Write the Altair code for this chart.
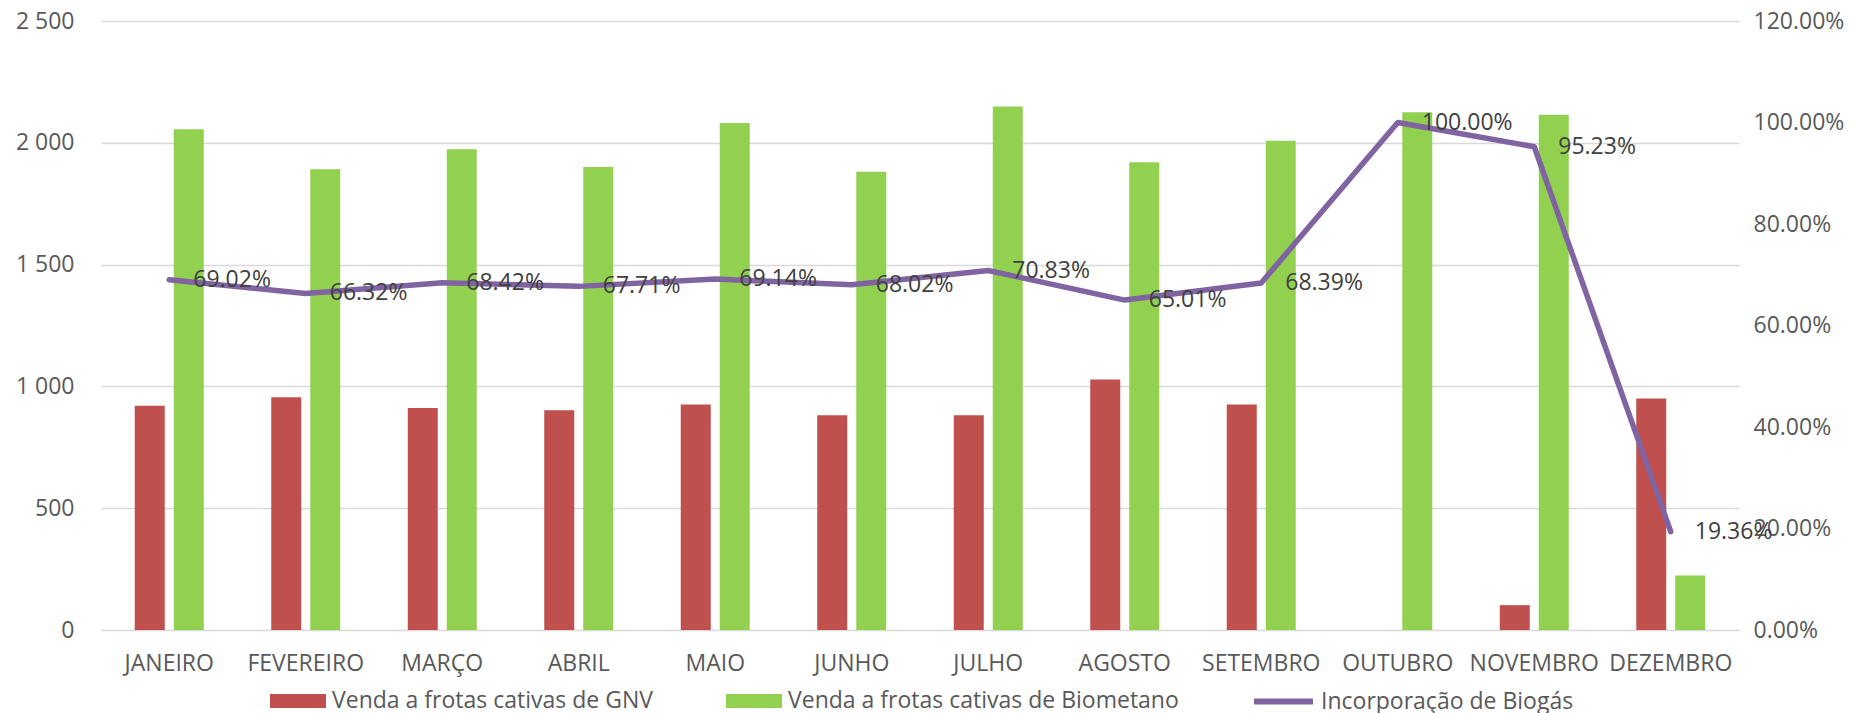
import altair as alt
import pandas as pd

meses = ["JANEIRO", "FEVEREIRO", "MARÇO", "ABRIL", "MAIO", "JUNHO", "JULHO",
         "AGOSTO", "SETEMBRO", "OUTUBRO", "NOVEMBRO", "DEZEMBRO"]
gnv = [921, 955, 911, 902, 926, 882, 882, 1028, 926, 0, 102, 950]
biometano = [2056, 1891, 1974, 1901, 2081, 1881, 2149, 1920, 2008, 2125, 2115, 224]
incorporacao = [0.6902, 0.6632, 0.6842, 0.6771, 0.6914, 0.6802, 0.7083, 0.6501,
                0.6839, 1.0000, 0.9523, 0.1936]

s_gnv = "Venda a frotas cativas de GNV"
s_bio = "Venda a frotas cativas de Biometano"
s_inc = "Incorporação de Biogás"

bars_df = pd.DataFrame({
    "mes": meses * 2,
    "serie": [s_gnv] * 12 + [s_bio] * 12,
    "valor": gnv + biometano,
})
line_df = pd.DataFrame({"mes": meses, "serie": [s_inc] * 12, "pct": incorporacao})

FONT = "Open Sans"
LABEL = "#595959"

x_enc = alt.X(
    "mes:N", sort=meses,
    scale=alt.Scale(paddingInner=0.4945, paddingOuter=0.24725),
    axis=alt.Axis(title=None, labelAngle=0, ticks=False, domain=False,
                  labelFontSize=23, labelColor=LABEL, labelPadding=22, labelFont=FONT),
)

bars = alt.Chart(bars_df).mark_bar().encode(
    x=x_enc,
    xOffset=alt.XOffset("serie:N", sort=[s_gnv, s_bio],
                        scale=alt.Scale(paddingInner=0.2308, paddingOuter=0)),
    y=alt.Y("valor:Q", scale=alt.Scale(domain=[0, 2500], nice=False),
            axis=alt.Axis(title=None, values=[0, 500, 1000, 1500, 2000, 2500],
                          labelExpr="replace(format(datum.value, ','), ',', ' ')",
                          grid=True, gridColor="#d9d9d9", gridWidth=1.5,
                          domain=False, ticks=False, labelFontSize=23,
                          labelColor=LABEL, labelPadding=27, labelFont=FONT)),
    color=alt.Color("serie:N",
                    scale=alt.Scale(domain=[s_gnv, s_bio], range=["#c0504d", "#92d050"]),
                    legend=alt.Legend(title=None, orient="none", direction="horizontal",
                                      legendX=169, legendY=652,
                                      symbolType="M-1,-0.25L1,-0.25L1,0.25L-1,0.25Z",
                                      symbolSize=3136, symbolStrokeWidth=0,
                                      labelFontSize=23, labelColor=LABEL, labelFont=FONT,
                                      labelOffset=6, columnPadding=73, padding=0,
                                      labelLimit=1000)),
)

y2 = alt.Y("pct:Q", scale=alt.Scale(domain=[0, 1.2], nice=False),
           axis=alt.Axis(title=None, orient="right", format=".2%",
                         values=[0, 0.2, 0.4, 0.6, 0.8, 1.0, 1.2],
                         grid=False, domain=False, ticks=False, labelFontSize=23,
                         labelColor=LABEL, labelPadding=14, labelFont=FONT))

line = alt.Chart(line_df).mark_line(strokeWidth=5.5, strokeCap="round",
                                     strokeJoin="round").encode(
    x=x_enc,
    y=y2,
    stroke=alt.Stroke("serie:N", scale=alt.Scale(domain=[s_inc], range=["#8064a2"]),
                      legend=alt.Legend(title=None, orient="none", legendX=1150, legendY=648,
                                        symbolType="stroke", symbolSize=3481,
                                        symbolStrokeWidth=6, labelFontSize=23,
                                        labelColor=LABEL, labelFont=FONT, labelOffset=5,
                                        padding=0, labelLimit=1000)),
)

labels = alt.Chart(line_df).mark_text(align="left", baseline="middle", dx=24,
                                      fontSize=23, color="#404040", font=FONT).encode(
    x=x_enc,
    y=y2,
    text=alt.Text("pct:Q", format=".2%"),
)

chart = alt.layer(bars, alt.layer(line, labels)).resolve_scale(
    y="independent"
).properties(
    width=1638, height=609,
    autosize=alt.AutoSizeParams(type="none"),
    padding={"left": 93, "top": 13, "right": 114, "bottom": 84},
).configure(font=FONT, view=alt.ViewConfig(stroke=None))

chart.save("out.html", embed_options={"renderer": "svg", "actions": False})
